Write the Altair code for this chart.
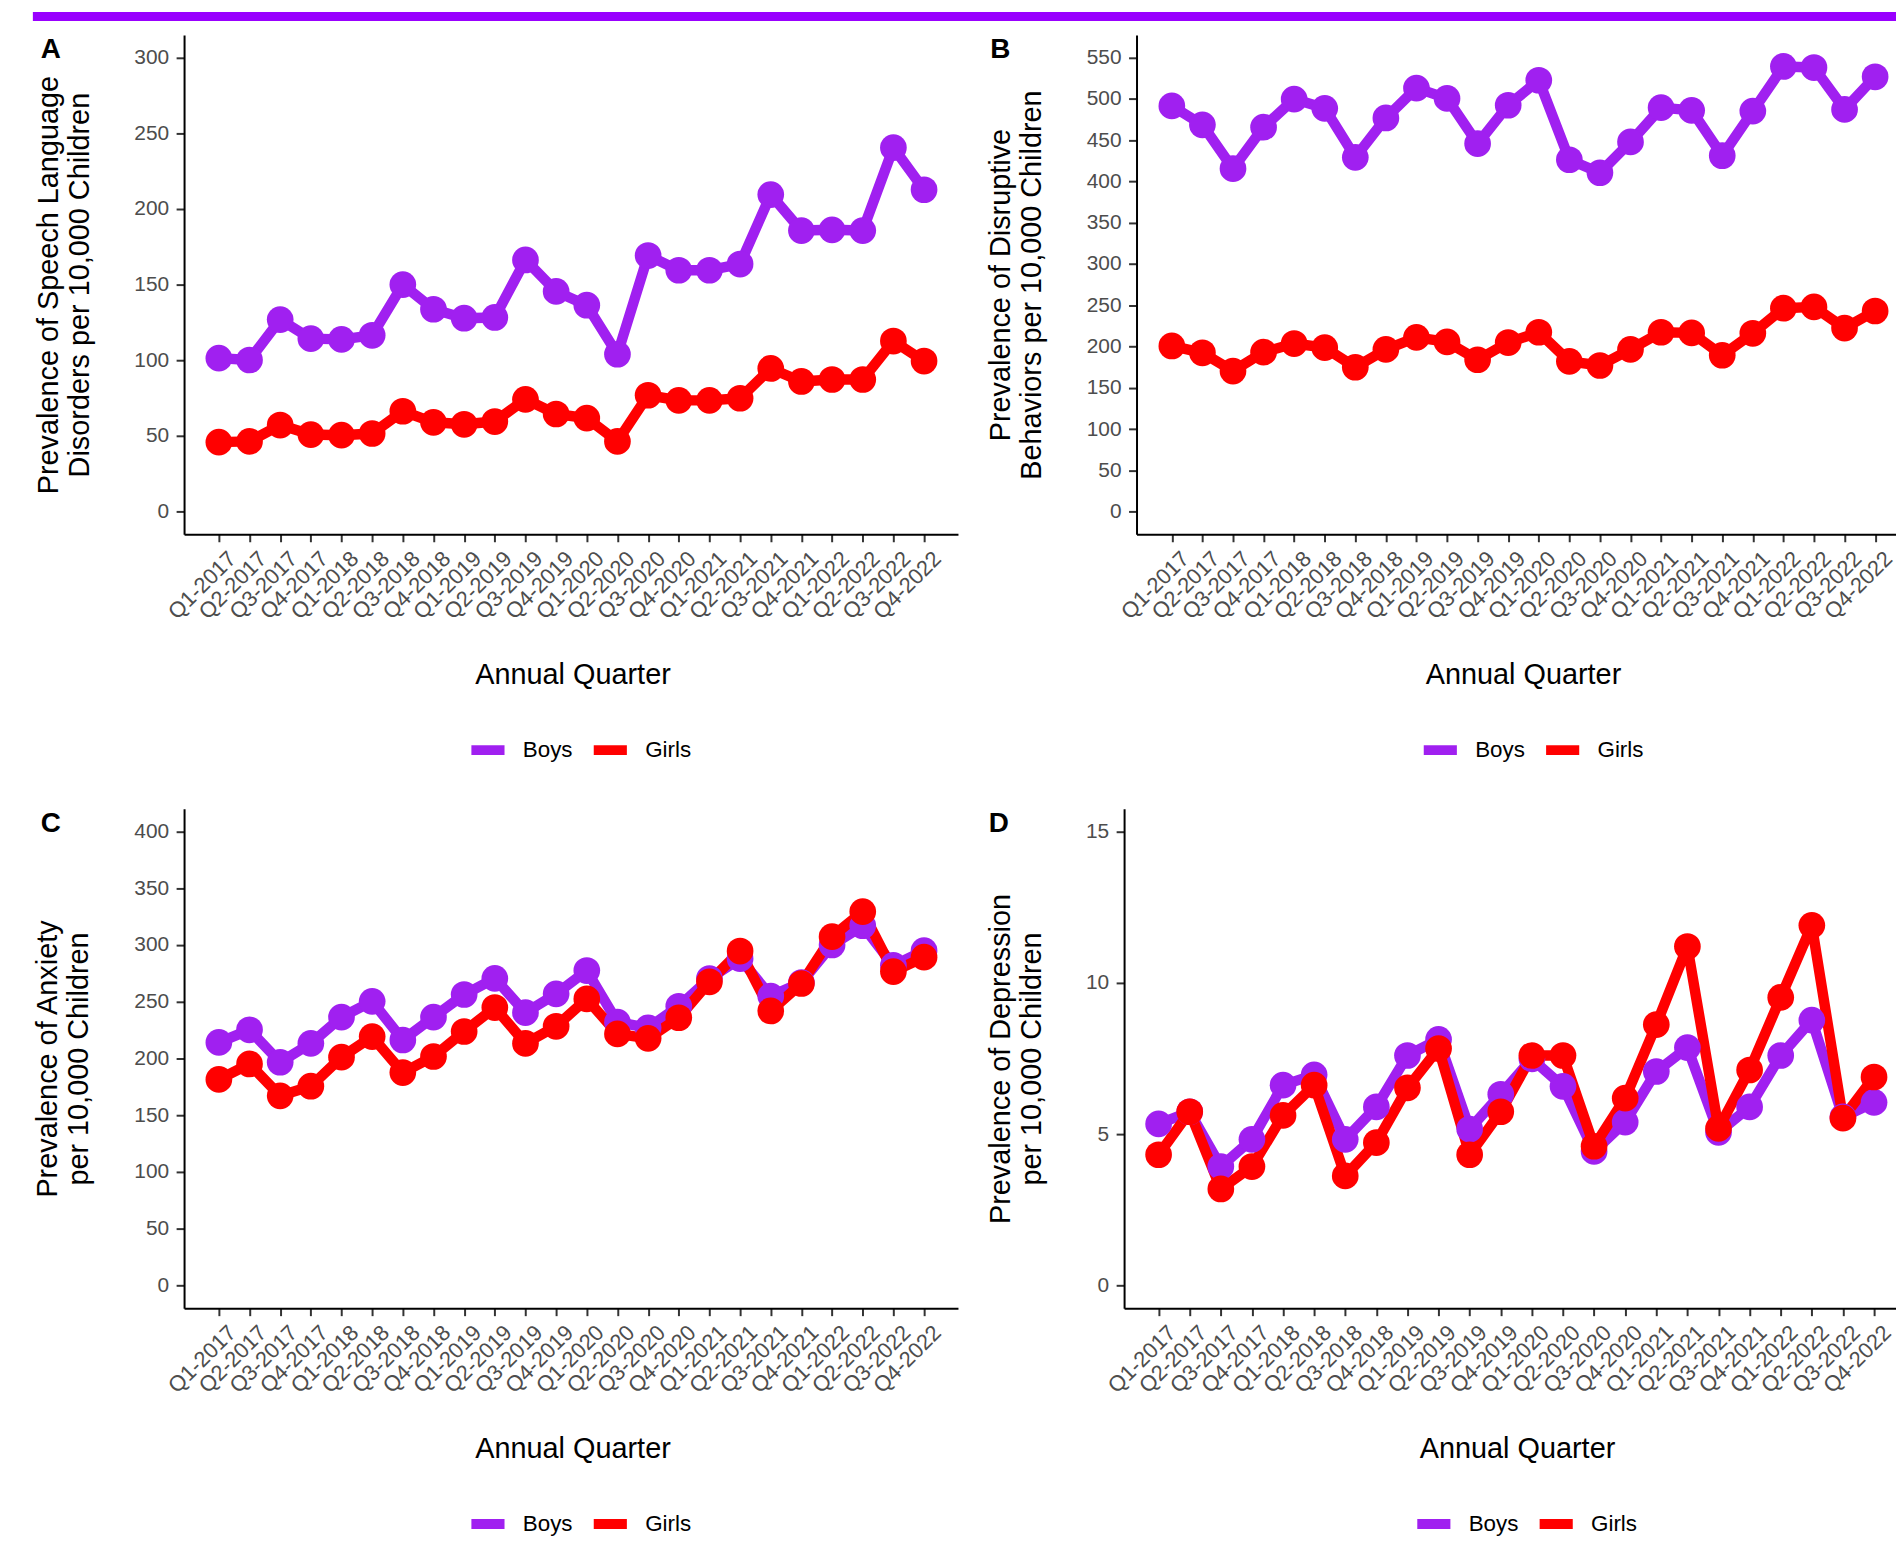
import altair as alt
import pandas as pd

quarters = ["Q1-2017", "Q2-2017", "Q3-2017", "Q4-2017",
            "Q1-2018", "Q2-2018", "Q3-2018", "Q4-2018",
            "Q1-2019", "Q2-2019", "Q3-2019", "Q4-2019",
            "Q1-2020", "Q2-2020", "Q3-2020", "Q4-2020",
            "Q1-2021", "Q2-2021", "Q3-2021", "Q4-2021",
            "Q1-2022", "Q2-2022", "Q3-2022", "Q4-2022"]
sexes = ["Boys", "Girls"]
sex_colors = ["#A020F0", "#FF0000"]

speech_boys = [101.4, 100.2, 126.9, 114.3, 113.8, 116.5, 150.0, 133.7, 127.8, 128.3, 166.3, 145.5,
               136.4, 104.0, 169.2, 159.5, 159.5, 163.6, 209.5, 185.7, 186.2, 185.7, 240.5, 212.7]
speech_girls = [45.9, 46.4, 57.2, 50.9, 50.5, 51.6, 66.3, 59.0, 57.7, 59.5, 74.2, 64.5,
                61.8, 46.4, 76.9, 73.5, 73.5, 74.9, 94.6, 86.0, 87.3, 87.3, 112.7, 99.5]
disrupt_boys = [491.5, 468.6, 415.5, 465.7, 499.8, 488.6, 429.2, 476.9, 513.1, 500.6, 445.8, 492.3,
                522.6, 426.3, 410.5, 447.9, 489.4, 486.1, 431.2, 485.2, 539.3, 538.0, 487.3, 526.8]
disrupt_girls = [200.7, 192.4, 170.3, 193.2, 203.6, 198.6, 174.9, 196.5, 211.0, 205.6, 184.0, 204.8,
                 217.3, 182.0, 177.0, 196.5, 217.3, 216.5, 189.4, 216.0, 246.4, 248.0, 222.3, 243.0]
anxiety_boys = [214.2, 225.3, 196.7, 213.3, 236.5, 250.4, 216.3, 236.5, 256.4, 270.6, 240.4, 257.0,
                277.5, 232.0, 227.0, 246.0, 270.5, 288.0, 255.0, 267.0, 300.0, 317.0, 282.0, 295.0]
anxiety_girls = [181.6, 195.2, 167.1, 175.6, 201.2, 219.3, 187.6, 201.8, 223.8, 244.9, 213.3, 228.4,
                 252.5, 221.7, 217.8, 235.9, 267.6, 294.7, 241.9, 266.1, 307.4, 329.4, 276.6, 289.3]
depress_boys = [5.34, 5.74, 3.93, 4.83, 6.62, 6.96, 4.83, 5.90, 7.60, 8.13, 5.17, 6.32,
                7.49, 6.58, 4.43, 5.40, 7.07, 7.86, 5.06, 5.90, 7.60, 8.77, 5.57, 6.05]
depress_girls = [4.32, 5.74, 3.19, 3.93, 5.62, 6.62, 3.62, 4.72, 6.53, 7.83, 4.32, 5.74,
                 7.60, 7.60, 4.60, 6.19, 8.62, 11.20, 5.19, 7.12, 9.52, 11.90, 5.53, 6.89]

ticks_speech = [0, 50, 100, 150, 200, 250, 300]
ticks_disrupt = [0, 50, 100, 150, 200, 250, 300, 350, 400, 450, 500, 550]
ticks_anxiety = [0, 50, 100, 150, 200, 250, 300, 350, 400]
ticks_depress = [0, 5, 10, 15]

FONT = "Liberation Sans"
PANEL_H = 502
quarter_index = list(range(len(quarters)))
label_expr = "[" + ",".join("'" + q + "'" for q in quarters) + "][datum.value]"


def panel(letter, boys, girls, ytitle, domain, ticks, width, xdomain,
          ytitle_x, xtitle_x, legend_x, tag_x, guard_x, guard_y2, banner=None):
    df = pd.DataFrame({
        "Index": quarter_index + quarter_index,
        "Quarter": quarters + quarters,
        "Sex": ["Boys"] * len(boys) + ["Girls"] * len(girls),
        "Value": boys + girls,
    })
    x = alt.X(
        "Index:Q",
        scale=alt.Scale(domain=xdomain, nice=False, zero=False),
        axis=alt.Axis(
            title="Annual Quarter", values=quarter_index, labelExpr=label_expr,
            labelAngle=-45, labelAlign="right", labelBaseline="top",
            labelFontSize=22, labelColor="#4D4D4D", labelFont=FONT, labelPadding=6,
            labelOffset=6, labelOverlap=False, labelFlush=False, tickSize=7.5, tickWidth=2,
            tickColor="#333333", domainColor="black", domainWidth=2, titleFont=FONT,
            titleFontSize=29, titleFontWeight="normal", titleColor="black", titleX=xtitle_x,
            titleY=150, titleAlign="center", titleBaseline="alphabetic", titleAngle=0, grid=False,
        ),
    )
    y = alt.Y(
        "Value:Q",
        scale=alt.Scale(domain=domain, nice=False, zero=False),
        axis=alt.Axis(
            title=ytitle, values=ticks, labelFontSize=21, labelColor="#4D4D4D", labelFont=FONT,
            labelPadding=7.5, labelOverlap=False, tickSize=8, tickWidth=2, tickColor="#333333",
            domainColor="black", domainWidth=2, titleFont=FONT, titleFontSize=29,
            titleFontWeight="normal", titleColor="black", titleAngle=270, titleAlign="center",
            titleBaseline="alphabetic", titleX=ytitle_x, titleY=PANEL_H / 2, titleLineHeight=31,
            grid=False,
        ),
    )
    color = alt.Color(
        "Sex:N", title=None,
        scale=alt.Scale(domain=sexes, range=sex_colors),
        legend=alt.Legend(
            orient="none", legendX=legend_x, legendY=697, direction="horizontal",
            symbolType="stroke", symbolSize=1109, symbolStrokeWidth=10, symbolOpacity=1,
            labelFontSize=22.5, labelFont=FONT, labelColor="black", labelOffset=13,
            columnPadding=0, padding=0,
        ),
    )
    base = alt.Chart(df).encode(x=x, y=y, color=color)
    lines = base.mark_line(strokeWidth=10.5, strokeJoin="round")
    pts = base.mark_circle(size=720, opacity=1)
    lab_df = pd.DataFrame({"label": [letter]})
    tag = alt.Chart(lab_df).mark_text(
        font=FONT, fontSize=28, fontWeight="bold", color="black", align="left", baseline="alphabetic"
    ).encode(x=alt.value(tag_x), y=alt.value(23), text="label:N")
    guard = alt.Chart(lab_df).mark_rule(opacity=0, strokeWidth=1).encode(
        x=alt.value(guard_x), y=alt.value(0), y2=alt.value(guard_y2)
    )
    layers = [lines, pts, tag, guard]
    if banner is not None:
        bx0, bx1, by0, by1 = banner
        band = alt.Chart(lab_df).mark_rect(color="#9900FF").encode(
            x=alt.value(bx0), x2=alt.value(bx1), y=alt.value(by0), y2=alt.value(by1)
        )
        layers.append(band)
    return alt.layer(*layers).properties(width=width, height=PANEL_H)


pA = panel("A", speech_boys, speech_girls,
           ["Prevalence of Speech Language", "Disorders per 10,000 Children"],
           [-15, 315], ticks_speech, 778, [-1.135, 24.106],
           -127, 390.5, 283.5, -144, -158, 745)
pB = panel("B", disrupt_boys, disrupt_girls,
           ["Prevalence of Disruptive", "Behaviors per 10,000 Children"],
           [-27.5, 577.5], ticks_disrupt, 763.5, [-1.155, 23.6825],
           -128, 388.5, 283.4, -147, 0, 10, banner=(-1109.5, 763.5, -23, -14))
pC = panel("C", anxiety_boys, anxiety_girls,
           ["Prevalence of Anxiety", "per 10,000 Children"],
           [-20, 420], ticks_anxiety, 778, [-1.135, 24.106],
           -128, 390.5, 283.5, -144, -158, 10)
pD = panel("D", depress_boys, depress_girls,
           ["Prevalence of Depression", "per 10,000 Children"],
           [-0.75, 15.75], ticks_depress, 776, [-1.11, 23.706],
           -115, 395, 289.4, -136, 0, 10)

row1 = alt.hconcat(pA, pB, spacing=179.5, bounds="flush").resolve_scale(
    color="independent").resolve_legend(color="independent")
row2 = alt.hconcat(pC, pD, spacing=167, bounds="flush").resolve_scale(
    color="independent").resolve_legend(color="independent")

chart = alt.vconcat(row1, row2, spacing=33).resolve_scale(
    color="independent").resolve_legend(color="independent").properties(
    padding={"left": 19, "top": 0, "right": 0, "bottom": 0},
    background="white",
).configure_view(stroke="transparent", strokeWidth=0)

chart.save("out.html", embed_options={"renderer": "svg", "actions": False})
